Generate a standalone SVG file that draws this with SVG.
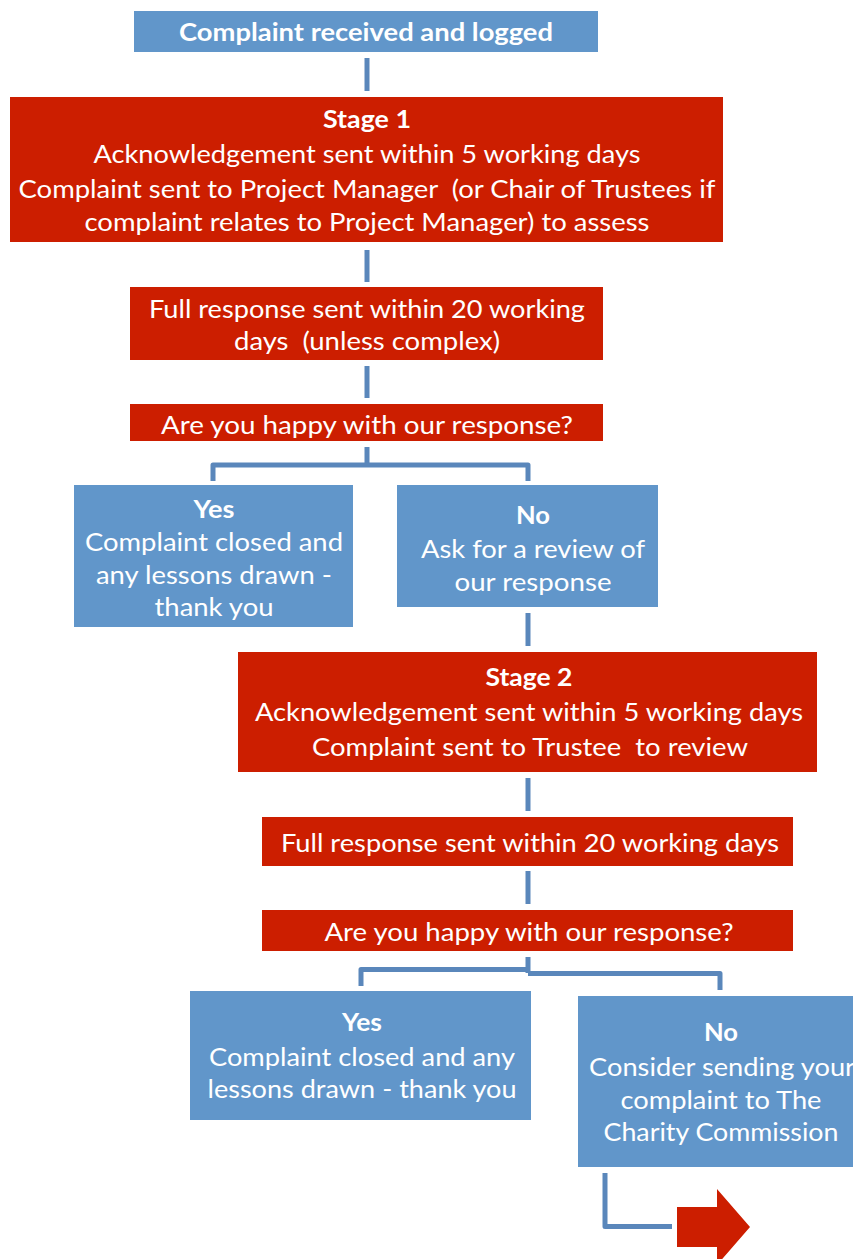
<svg xmlns="http://www.w3.org/2000/svg" width="853" height="1259" viewBox="0 0 853 1259" xml:space="preserve">
<style>
.blue{fill:#6196CA}
.red{fill:#CC1E00}
.t{font-family:Lato,"Liberation Sans",sans-serif;font-size:25px;fill:#fff;text-anchor:middle;white-space:pre}
.b{font-weight:bold}
.c{fill:none;stroke:#5A87BB;stroke-width:5;stroke-linejoin:round}
</style>
<rect width="853" height="1259" fill="#fff"/>
<g id="connectors">
<path class="c" d="M367 58V91"/>
<path class="c" d="M367 250V282"/>
<path class="c" d="M367 366V398"/>
<path class="c" d="M367 447V465M213 481V465H528V481"/>
<path class="c" d="M528 613V646"/>
<path class="c" d="M528 778V811"/>
<path class="c" d="M528 871V904"/>
<path class="c" d="M528 957V973M361 986V969.5H528M528 973.5H720V990"/>
<path class="c" d="M605 1173V1226.5H672"/>
</g>
<g id="n1"><rect class="blue" x="134" y="11" width="464" height="41"/><text class="t b" x="366" y="41" textLength="374" lengthAdjust="spacingAndGlyphs">Complaint received and logged</text></g>
<g id="n2"><rect class="red" x="10" y="97" width="713" height="145"/>
<text class="t b" x="367" y="128" textLength="88" lengthAdjust="spacingAndGlyphs">Stage 1</text>
<text class="t" x="367" y="163" textLength="547" lengthAdjust="spacingAndGlyphs">Acknowledgement sent within 5 working days</text>
<text class="t" x="367" y="198" textLength="697" lengthAdjust="spacingAndGlyphs">Complaint sent to Project Manager  (or Chair of Trustees if</text>
<text class="t" x="367" y="231" textLength="565" lengthAdjust="spacingAndGlyphs">complaint relates to Project Manager) to assess</text></g>
<g id="n3"><rect class="red" x="130" y="287" width="473" height="73"/>
<text class="t" x="367" y="318" textLength="436" lengthAdjust="spacingAndGlyphs">Full response sent within 20 working</text>
<text class="t" x="367" y="350" textLength="266" lengthAdjust="spacingAndGlyphs">days  (unless complex)</text></g>
<g id="n4"><rect class="red" x="130" y="404" width="473" height="37"/>
<text class="t" x="367" y="434" textLength="412" lengthAdjust="spacingAndGlyphs">Are you happy with our response?</text></g>
<g id="n5"><rect class="blue" x="74" y="485" width="279" height="142"/>
<text class="t b" x="214" y="518" textLength="41" lengthAdjust="spacingAndGlyphs">Yes</text>
<text class="t" x="214" y="551" textLength="258" lengthAdjust="spacingAndGlyphs">Complaint closed and</text>
<text class="t" x="214" y="584" textLength="236" lengthAdjust="spacingAndGlyphs">any lessons drawn -</text>
<text class="t" x="214" y="616" textLength="119" lengthAdjust="spacingAndGlyphs">thank you</text></g>
<g id="n6"><rect class="blue" x="397" y="485" width="261" height="122"/>
<text class="t b" x="533" y="524" textLength="34" lengthAdjust="spacingAndGlyphs">No</text>
<text class="t" x="533" y="558" textLength="224" lengthAdjust="spacingAndGlyphs">Ask for a review of</text>
<text class="t" x="533" y="591" textLength="157" lengthAdjust="spacingAndGlyphs">our response</text></g>
<g id="n7"><rect class="red" x="238" y="652" width="579" height="120"/>
<text class="t b" x="529" y="686" textLength="87" lengthAdjust="spacingAndGlyphs">Stage 2</text>
<text class="t" x="529" y="721" textLength="548" lengthAdjust="spacingAndGlyphs">Acknowledgement sent within 5 working days</text>
<text class="t" x="530" y="756" textLength="436" lengthAdjust="spacingAndGlyphs">Complaint sent to Trustee  to review</text></g>
<g id="n8"><rect class="red" x="262" y="817" width="531" height="49"/>
<text class="t" x="530" y="852" textLength="498" lengthAdjust="spacingAndGlyphs">Full response sent within 20 working days</text></g>
<g id="n9"><rect class="red" x="262" y="910" width="531" height="41"/>
<text class="t" x="529" y="941" textLength="409" lengthAdjust="spacingAndGlyphs">Are you happy with our response?</text></g>
<g id="n10"><rect class="blue" x="190" y="991" width="341" height="129"/>
<text class="t b" x="362" y="1031" textLength="40" lengthAdjust="spacingAndGlyphs">Yes</text>
<text class="t" x="362" y="1066" textLength="306" lengthAdjust="spacingAndGlyphs">Complaint closed and any</text>
<text class="t" x="362" y="1098" textLength="309" lengthAdjust="spacingAndGlyphs">lessons drawn - thank you</text></g>
<g id="n11"><rect class="blue" x="578" y="996" width="280" height="171"/>
<text class="t b" x="721" y="1041" textLength="34" lengthAdjust="spacingAndGlyphs">No</text>
<text class="t" x="722" y="1076" textLength="266" lengthAdjust="spacingAndGlyphs">Consider sending your</text>
<text class="t" x="721" y="1109" textLength="201" lengthAdjust="spacingAndGlyphs">complaint to The</text>
<text class="t" x="721" y="1141" textLength="235" lengthAdjust="spacingAndGlyphs">Charity Commission</text></g>
<g id="n12"><path class="red" d="M677 1207H717V1189L750 1227L717 1265V1247H677Z"/></g>
</svg>
